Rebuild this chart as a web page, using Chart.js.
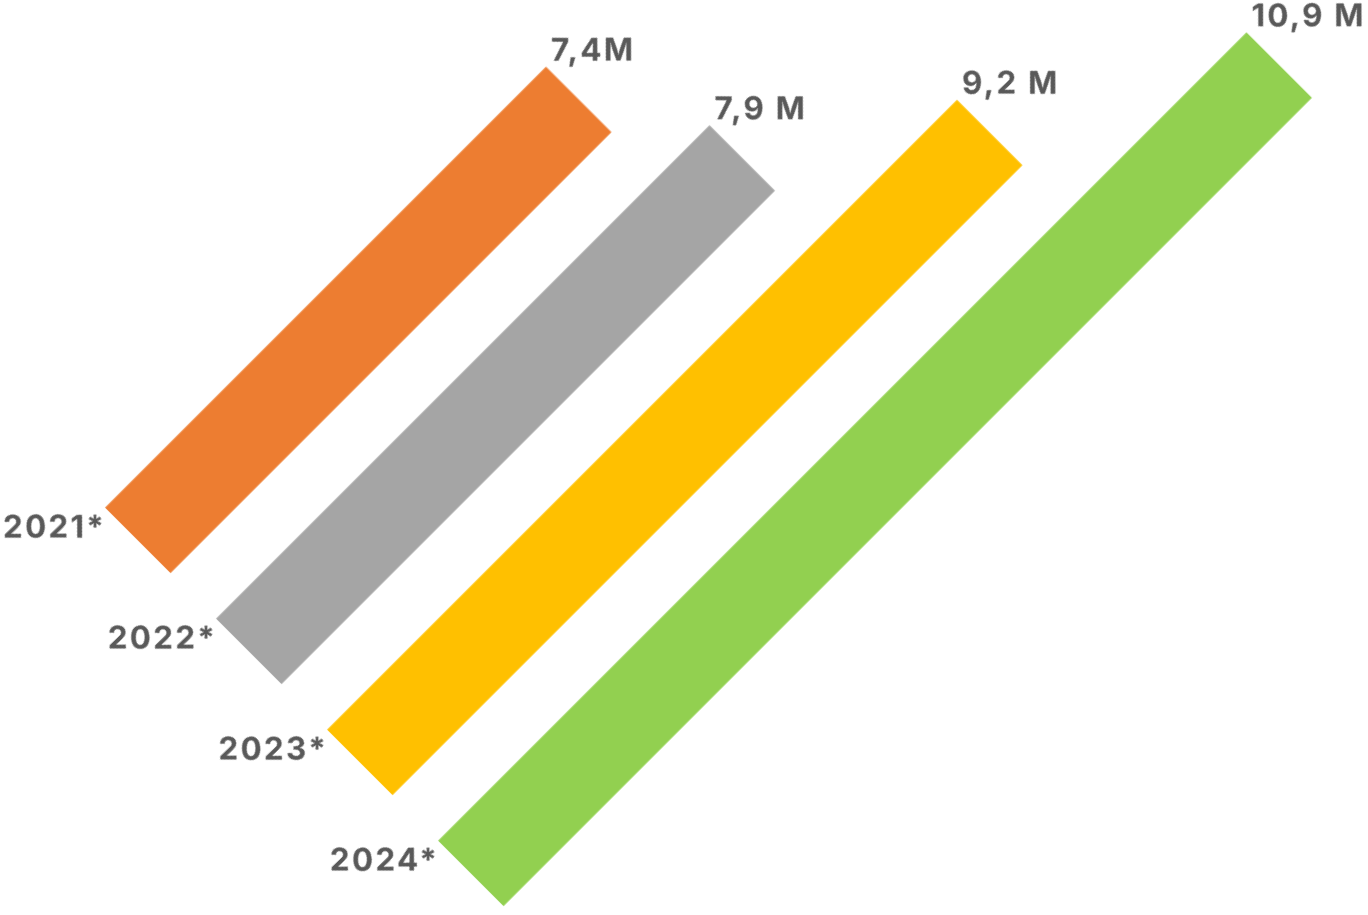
<!DOCTYPE html>
<html><head><meta charset="utf-8">
<script src="https://cdn.jsdelivr.net/npm/chart.js@4"></script>
<style>
html,body{margin:0;padding:0;background:#fff;overflow:hidden;width:1368px;height:915px;}
#wrap{position:absolute;left:-35.6px;top:-99.5px;width:1450px;height:800px;transform:rotate(-45deg);transform-origin:50% 50%;}
canvas{display:block}
</style></head><body>
<div id="wrap"><canvas id="c" width="1450" height="800" style="width:1450px;height:800px"></canvas></div>
<script>
const categories = ['2021*', '2022*', '2023*', '2024*'];
const values = [7.4, 7.9, 9.2, 10.9];
const valueLabels = ['7,4M', '7,9 M', '9,2 M', '10,9 M'];
const colors = ['#ED7D31', '#A5A5A5', '#FFC000', '#92D050'];
const axisMin = 3.2;
const axisMax = 11.0;

const labelPlugin = {
  id: 'diagLabels',
  afterDatasetsDraw(chart) {
    const ctx = chart.ctx;
    const meta = chart.getDatasetMeta(0);
    ctx.save();
    ctx.font = '700 31.5px Inter';
    ctx.fillStyle = '#595959';
    try { ctx.letterSpacing = '2.2px'; } catch (e) {}
    meta.data.forEach((bar, i) => {
      const p = bar.getProps(['x', 'y', 'base', 'height'], true);
      const top = p.y - p.height / 2;
      ctx.save();
      ctx.translate(p.x, top);
      ctx.rotate(Math.PI / 4);
      ctx.textAlign = 'left';
      ctx.textBaseline = 'alphabetic';
      ctx.fillText(valueLabels[i], 5, -6);
      ctx.restore();
      ctx.save();
      ctx.translate(p.base, top);
      ctx.rotate(Math.PI / 4);
      ctx.textAlign = 'right';
      ctx.textBaseline = 'alphabetic';
      ctx.fillText(categories[i], 1, 30);
      ctx.restore();
    });
    ctx.restore();
  }
};

new Chart(document.getElementById('c'), {
  type: 'bar',
  data: {
    labels: categories,
    datasets: [{
      data: values,
      backgroundColor: colors,
      base: axisMin,
      barPercentage: 0.59,
      categoryPercentage: 1,
      borderWidth: 0
    }]
  },
  options: {
    indexAxis: 'y',
    responsive: false,
    animation: false,
    devicePixelRatio: 1,
    layout: { padding: { left: 166, right: 126, top: 101, bottom: 71 } },
    scales: {
      x: { display: false, min: axisMin, max: axisMax },
      y: { display: false }
    },
    plugins: { legend: { display: false }, tooltip: { enabled: false } }
  },
  plugins: [labelPlugin]
});
</script>
</body></html>
